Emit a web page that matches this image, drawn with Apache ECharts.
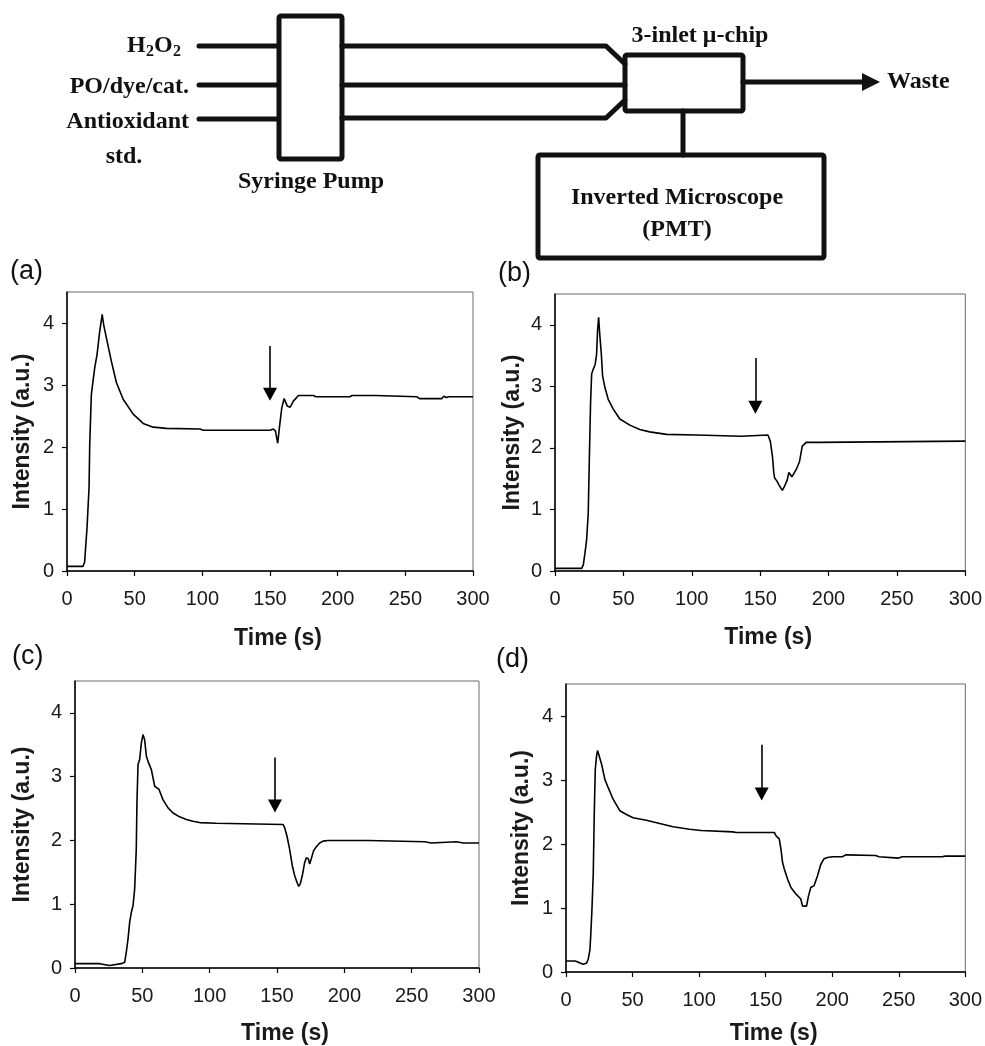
<!DOCTYPE html>
<html>
<head>
<meta charset="utf-8">
<script src="https://cdn.jsdelivr.net/npm/echarts@6/dist/echarts.min.js"></script>
<style>
html,body{margin:0;padding:0;background:#fff;}
#chart{width:985px;height:1046px;}
</style>
</head>
<body>
<div id="chart"></div>
<script>
// ---------- data ----------
const xTicks = [0, 50, 100, 150, 200, 250, 300];
const yTicks = [0, 1, 2, 3, 4];
const panelLabels = ['(a)', '(b)', '(c)', '(d)'];
const xTitle = 'Time (s)';
const yTitle = 'Intensity (a.u.)';

const timeA = [0, 11.8, 13, 14.8, 16.3, 16.8, 18, 20.5, 22.2, 24.2, 26, 27.1, 29.1, 32.8, 36.5, 41.5, 48.9, 56.3, 63.7, 73.5, 98.2, 100.7, 135, 150, 152.5, 154, 155.7, 157, 158.7, 160.4, 162.8, 164.8, 167.3, 171, 182, 184, 209, 210.7, 227.7, 228.5, 258.6, 260.5, 277, 278.3, 280.5, 282, 300];
const intensityA = [0.075, 0.075, 0.14, 0.7, 1.35, 2.05, 2.85, 3.28, 3.49, 3.87, 4.14, 3.97, 3.76, 3.38, 3.04, 2.77, 2.53, 2.38, 2.32, 2.30, 2.29, 2.27, 2.27, 2.27, 2.29, 2.26, 2.06, 2.32, 2.63, 2.78, 2.66, 2.64, 2.74, 2.83, 2.83, 2.81, 2.81, 2.83, 2.83, 2.81, 2.81, 2.78, 2.78, 2.82, 2.80, 2.81, 2.81];

const timeB = [0, 19.5, 20.7, 21.9, 23.1, 24.3, 25.1, 26, 26.8, 28, 29.4, 30.4, 31.1, 31.9, 32.8, 33.8, 34.8, 36.5, 38.9, 42.6, 47.4, 54.7, 62, 69.3, 81.5, 103.4, 104.6, 136.3, 137, 155.7, 157.4, 159, 160, 160.6, 162.3, 163.7, 166.2, 167.9, 169.8, 171, 172.3, 173.2, 174.5, 176.4, 178.8, 180, 180.8, 181.8, 183.7, 193.4, 194.2, 300];
const intensityB = [0.043, 0.043, 0.1, 0.29, 0.5, 0.94, 1.81, 2.73, 3.2, 3.28, 3.36, 3.52, 3.9, 4.12, 3.82, 3.55, 3.17, 2.98, 2.79, 2.63, 2.47, 2.37, 2.3, 2.26, 2.22, 2.21, 2.19, 2.19, 2.21, 2.21, 2.11, 1.86, 1.59, 1.51, 1.46, 1.40, 1.31, 1.38, 1.48, 1.6, 1.59, 1.53, 1.53, 1.65, 1.78, 1.81, 2.03, 2.05, 2.09, 2.09, 2.11, 2.11];

const timeC = [0, 18.3, 19.6, 25.7, 26.2, 34.4, 35.6, 36.9, 38.1, 39.4, 40.6, 41.8, 43.1, 44.3, 45.5, 46, 46.8, 48, 49.3, 50.5, 51.7, 53, 54.2, 56.7, 59.2, 60.4, 62.4, 65.3, 69.1, 72.8, 77.7, 82.7, 87.6, 92.6, 105, 106.2, 154.5, 155.7, 157.4, 159.4, 161.4, 163.1, 164.9, 166.1, 167.3, 168.8, 170.5, 171.8, 173.3, 174.3, 175.5, 177.2, 179.2, 181.7, 184.2, 187.9, 215.1, 216.3, 217.6, 218.8, 259.7, 260.9, 264.6, 265.3, 283.2, 284.4, 288.2, 289.4, 291.8, 300];
const intensityC = [0.068, 0.068, 0.04, 0.04, 0.068, 0.068, 0.04, 0.09, 0.25, 0.46, 0.72, 0.87, 0.98, 1.24, 1.86, 2.59, 3.19, 3.27, 3.53, 3.66, 3.58, 3.32, 3.24, 3.11, 2.85, 2.82, 2.8, 2.64, 2.51, 2.43, 2.37, 2.33, 2.3, 2.28, 2.27, 2.25, 2.25, 2.2, 2.07, 1.86, 1.6, 1.45, 1.34, 1.28, 1.32, 1.45, 1.65, 1.73, 1.71, 1.63, 1.65, 1.84, 1.9, 1.96, 1.99, 2.0, 2.0, 1.98, 2.0, 1.98, 1.98, 1.96, 1.96, 1.98, 1.98, 1.96, 1.96, 1.98, 1.96, 1.96];

const timeD = [0, 6.7, 8.5, 10.5, 13, 15.5, 16.7, 18, 18.7, 19.5, 20.5, 21.2, 22, 23, 23.7, 24.7, 26.7, 29.2, 31.7, 35.4, 40.4, 45.4, 50.4, 60.4, 70.4, 80.4, 92.8, 101.6, 125.3, 127.8, 156.5, 157.7, 159, 160.2, 161.5, 162.7, 164, 166.5, 169, 172.7, 176.4, 177.7, 178.9, 180.7, 182.2, 183.9, 186.4, 188.9, 191.4, 193.9, 196.4, 200.2, 207.6, 210.1, 232.6, 235.1, 250, 252.6, 282.5, 285, 300];
const intensityD = [0.172, 0.172, 0.16, 0.14, 0.12, 0.14, 0.2, 0.35, 0.62, 0.98, 1.55, 2.44, 3.17, 3.38, 3.46, 3.43, 3.25, 3.01, 2.88, 2.7, 2.52, 2.46, 2.41, 2.37, 2.32, 2.27, 2.23, 2.21, 2.19, 2.18, 2.18, 2.13, 2.1, 2.08, 1.92, 1.71, 1.61, 1.45, 1.32, 1.22, 1.14, 1.03, 1.01, 1.03, 1.19, 1.32, 1.35, 1.5, 1.68, 1.77, 1.79, 1.8, 1.8, 1.83, 1.82, 1.8, 1.78, 1.8, 1.8, 1.81, 1.81];

// injection arrows (time, top of shaft, tip) per panel
const arrowTime = [150, 146.5, 148.5, 147];
const arrowTop = [3.63, 3.46, 3.30, 3.55];
const arrowTip = [2.85, 2.66, 2.54, 2.78];

// ---------- layout ----------
const times = [timeA, timeB, timeC, timeD];
const intens = [intensityA, intensityB, intensityC, intensityD];
const grids = [
  {left: 67, top: 292, width: 406, height: 279},
  {left: 555, top: 294, width: 411, height: 277},
  {left: 75, top: 681, width: 404, height: 288},
  {left: 566, top: 684, width: 401, height: 289}
];
const yNameGap = [33, 31, 41, 33];
const xNameGap = [56, 55, 54, 50];
const labelPos = [[10, 272], [498, 274], [12, 657], [496, 660]];

const sans = "'Liberation Sans', Arial, Helvetica, sans-serif";
const serif = "'Liberation Serif', 'Times New Roman', serif";

const xAxes = [], yAxes = [], series = [];
grids.forEach((g, i) => {
  xAxes.push({
    type: 'value', gridIndex: i, min: 0, max: 300, interval: 50,
    axisLine: {show: true, onZero: false, lineStyle: {color: '#000', width: 1.5}},
    axisTick: {show: true, length: 5, lineStyle: {color: '#000', width: 1.2}},
    axisLabel: {margin: 18, fontSize: 20, color: '#1a1a1a', fontFamily: sans, customValues: xTicks},
    splitLine: {show: false},
    name: xTitle, nameLocation: 'middle', nameGap: xNameGap[i],
    nameTextStyle: {fontSize: 23, fontWeight: 'bold', color: '#1a1a1a', fontFamily: sans, padding: [0, 0, 0, 16]}
  });
  yAxes.push({
    type: 'value', gridIndex: i, min: 0, max: 4.5, interval: 1,
    axisLine: {show: true, onZero: false, lineStyle: {color: '#000', width: 1.5}},
    axisTick: {show: true, length: 5, lineStyle: {color: '#000', width: 1.2}, customValues: yTicks},
    axisLabel: {margin: 13, fontSize: 20, color: '#1a1a1a', fontFamily: sans, customValues: yTicks},
    splitLine: {show: false},
    name: yTitle, nameLocation: 'middle', nameGap: yNameGap[i],
    nameTextStyle: {fontSize: 23, fontWeight: 'bold', color: '#1a1a1a', fontFamily: sans}
  });
  series.push({
    type: 'line', xAxisIndex: i, yAxisIndex: i,
    data: times[i].map((t, k) => [t, intens[i][k]]),
    showSymbol: false, symbol: 'none', smooth: false,
    lineStyle: {color: '#000', width: 1.6},
    silent: true, animation: false,
    markLine: {
      silent: true, animation: false,
      symbol: ['none', 'triangle'], symbolSize: [14, 13],
      label: {show: false},
      lineStyle: {color: '#000', width: 1.6, type: 'solid'},
      data: [[{coord: [arrowTime[i], arrowTop[i]]}, {coord: [arrowTime[i], arrowTip[i]]}]]
    }
  });
});

// ---------- schematic (decorative graphic) ----------
const K = '#111';
const lw = 5;
function ln(x1, y1, x2, y2) { return {type: 'line', shape: {x1, y1, x2, y2}, style: {stroke: K, lineWidth: lw, lineCap: 'round'}}; }
function pl(points) { return {type: 'polyline', shape: {points}, style: {stroke: K, lineWidth: lw, fill: null, lineJoin: 'round', lineCap: 'round'}}; }
function rc(x, y, w, h) { return {type: 'rect', shape: {x, y, width: w, height: h, r: 2}, style: {stroke: K, lineWidth: lw, fill: 'none'}}; }
function tx(text, x, y, align, size) {
  return {type: 'text', x, y, style: {text, font: 'bold ' + (size || 24) + 'px ' + serif, fill: K, textAlign: align || 'left', textVerticalAlign: 'middle'}};
}
const graphics = [
  ln(199, 46, 278, 46), ln(199, 85, 278, 85), ln(199, 119, 278, 119),
  rc(279, 16, 63, 143),
  pl([[342, 46], [606, 46], [625, 64]]),
  ln(342, 85, 625, 85),
  pl([[342, 118], [606, 118], [625, 100]]),
  rc(625, 55, 118, 56),
  ln(743, 82, 866, 82),
  {type: 'polygon', shape: {points: [[862, 73], [880, 82], [862, 91]]}, style: {fill: K}},
  ln(683, 111, 683, 155),
  rc(538, 155, 286, 103),
  // labels
  tx('H', 127, 46, 'left'), tx('2', 146, 52, 'left', 16), tx('O', 154, 46, 'left'), tx('2', 173, 52, 'left', 16),
  tx('PO/dye/cat.', 189, 87, 'right'),
  tx('Antioxidant', 189, 122, 'right'),
  tx('std.', 124, 157, 'center'),
  tx('Syringe Pump', 311, 182, 'center'),
  tx('3-inlet \u03bc-chip', 700, 36, 'center'),
  tx('Waste', 887, 82, 'left'),
  tx('Inverted Microscope', 677, 198, 'center'),
  tx('(PMT)', 677, 230, 'center')
];
panelLabels.forEach((t, i) => {
  graphics.push({type: 'text', x: labelPos[i][0], y: labelPos[i][1],
    style: {text: t, font: '27px ' + sans, fill: K, textAlign: 'left', textVerticalAlign: 'middle'}});
});

const chart = echarts.init(document.getElementById('chart'), null, {renderer: 'canvas'});
chart.setOption({
  backgroundColor: '#fff',
  animation: false,
  grid: grids.map(g => Object.assign({show: true, borderColor: '#6a6a6a', borderWidth: 1, backgroundColor: 'transparent'}, g)),
  xAxis: xAxes,
  yAxis: yAxes,
  series: series,
  graphic: graphics
});
</script>
</body>
</html>
